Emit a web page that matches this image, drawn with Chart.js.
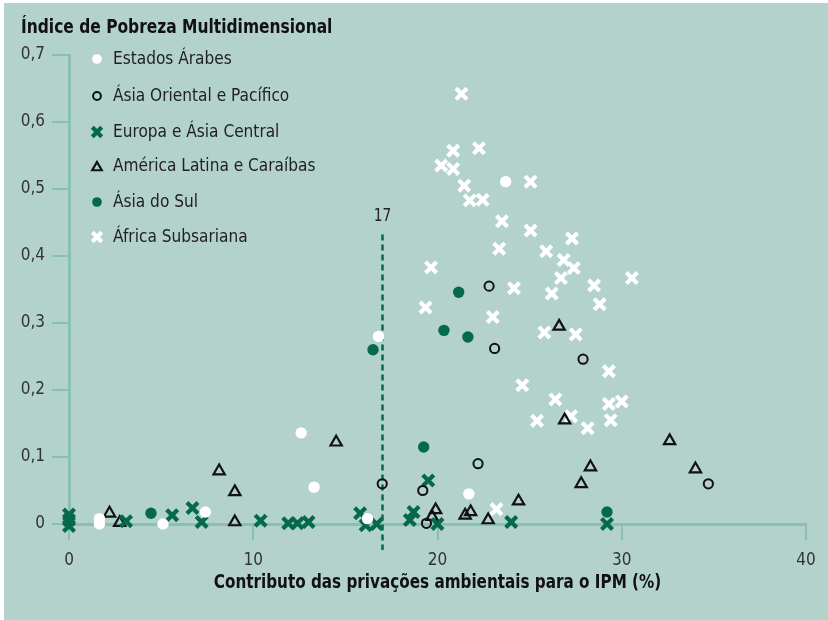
<!DOCTYPE html>
<html><head><meta charset="utf-8">
<script src="https://cdn.jsdelivr.net/npm/chart.js@4/dist/chart.umd.min.js"></script>
<style>html,body{margin:0;padding:0;background:#fff}#wrap{width:828px;height:620px;position:relative}</style>
</head><body><div id="wrap"><canvas id="c" width="828" height="620"></canvas></div>
<script>
// ---------- DATA ----------
const categories = ['Estados Árabes','Ásia Oriental e Pacífico','Europa e Ásia Central','América Latina e Caraíbas','Ásia do Sul','África Subsariana'];
const estadosArabes = [[1.65,0.008],[1.65,0.0],[5.1,0.0],[7.4,0.018],[12.6,0.136],[13.3,0.055],[16.2,0.008],[16.8,0.28],[21.7,0.045],[23.7,0.511]];
const asiaOriental = [[17.0,0.06],[19.2,0.05],[19.4,0.001],[22.2,0.09],[22.8,0.355],[23.1,0.262],[27.9,0.246],[34.7,0.06]];
const europaAsiaCentral = [[0,0.014],[0,0.006],[0,-0.003],[3.1,0.004],[5.6,0.013],[6.7,0.024],[7.2,0.003],[10.4,0.005],[11.9,0.001],[12.4,0.001],[13.0,0.003],[15.8,0.016],[16.1,-0.002],[16.7,0.0],[18.5,0.006],[18.7,0.018],[19.5,0.065],[20.0,0.0],[24.0,0.003],[29.2,0.0]];
const americaLatina = [[2.2,0.016],[2.75,0.002],[8.15,0.079],[9.0,0.048],[9.0,0.003],[14.5,0.122],[19.7,0.011],[19.9,0.021],[21.5,0.013],[21.8,0.018],[22.75,0.006],[24.4,0.034],[26.6,0.295],[26.9,0.155],[27.8,0.06],[28.3,0.085],[32.6,0.124],[34.0,0.082]];
const asiaSul = [[4.45,0.016],[16.5,0.26],[19.25,0.115],[20.35,0.289],[21.15,0.346],[21.65,0.279],[29.2,0.018]];
const africaSubsariana = [[21.3,0.642],[20.85,0.557],[22.25,0.561],[20.2,0.535],[20.85,0.530],[21.45,0.505],[21.75,0.483],[22.45,0.484],[25.05,0.511],[23.5,0.452],[25.05,0.438],[27.3,0.426],[23.35,0.411],[25.9,0.407],[26.85,0.394],[27.4,0.382],[26.7,0.367],[30.55,0.367],[28.5,0.356],[24.15,0.352],[26.2,0.344],[28.8,0.328],[23.0,0.309],[25.8,0.286],[27.5,0.283],[29.3,0.228],[24.6,0.207],[26.4,0.186],[29.3,0.179],[30.0,0.183],[27.25,0.161],[25.4,0.154],[29.4,0.155],[28.15,0.143],[19.65,0.383],[19.35,0.323],[23.2,0.022]];
const xTickValues = [0,10,20,30,40];
const xTickLabels = ['0','10','20','30','40'];
const yTickValues = [0,0.1,0.2,0.3,0.4,0.5,0.6,0.7];
const yTickLabels = ['0','0,1','0,2','0,3','0,4','0,5','0,6','0,7'];
const thresholdX = 17;
const thresholdLabel = '17';
const thresholdTopY = 0.432;
const chartTitle = 'Índice de Pobreza Multidimensional';
const xAxisTitle = 'Contributo das privações ambientais para o IPM (%)';

// ---------- STYLE ----------
const BG = '#b3d2cb';
const AXIS = '#8bbfae';
const GREEN = '#05694b';
const FONT = '"Liberation Sans Narrow","Arial Narrow","DejaVu Sans Condensed",sans-serif';
const seriesData = [estadosArabes, asiaOriental, europaAsiaCentral, americaLatina, asiaSul, africaSubsariana];
const styles = [
  {pointStyle:'circle', r:5.7, bg:'#ffffff', bc:'#ffffff', bw:0},
  {pointStyle:'circle', r:4.6, bg:'rgba(0,0,0,0)', bc:'#111', bw:2},
  {pointStyle:'crossRot', r:7.8, bg:GREEN, bc:GREEN, bw:4.2},
  {pointStyle:'triangle', r:6.5, bg:'rgba(0,0,0,0)', bc:'#111', bw:2.2},
  {pointStyle:'circle', r:5.7, bg:GREEN, bc:GREEN, bw:0},
  {pointStyle:'crossRot', r:7.8, bg:'#ffffff', bc:'#ffffff', bw:4.2}
];

const datasets = categories.map((name,i)=>({
  label:name,
  data: seriesData[i].map(p=>({x:p[0], y:p[1]})),
  pointStyle: styles[i].pointStyle,
  pointRadius: styles[i].r,
  pointBackgroundColor: styles[i].bg,
  pointBorderColor: styles[i].bc,
  pointBorderWidth: styles[i].bw,
  showLine:false,
  clip:false
}));

function scaledText(ctx, text, x, y, sx){
  ctx.save();
  ctx.translate(x, y);
  ctx.scale(sx, 1);
  ctx.fillText(text, 0, 0);
  ctx.restore();
}

const decorPlugin = {
  id:'decor',
  beforeDraw(chart){
    const ctx = chart.ctx;
    ctx.save();
    ctx.fillStyle = '#ffffff';
    ctx.fillRect(0,0,chart.width,chart.height);
    ctx.fillStyle = BG;
    ctx.fillRect(4,3,chart.width-4,chart.height-3);
    ctx.restore();
  },
  beforeDatasetsDraw(chart){
    const ctx = chart.ctx, xs = chart.scales.x, ys = chart.scales.y;
    const px = Math.round(xs.getPixelForValue(thresholdX)) + 0.5;
    const top = ys.getPixelForValue(thresholdTopY);
    ctx.save();
    ctx.strokeStyle = GREEN;
    ctx.lineWidth = 2.5;
    ctx.setLineDash([6,4]);
    ctx.beginPath();
    ctx.moveTo(px, top);
    ctx.lineTo(px, chart.chartArea.bottom + 26);
    ctx.stroke();
    ctx.setLineDash([]);
    ctx.fillStyle = '#222';
    ctx.font = '17px ' + FONT;
    ctx.textAlign = 'center';
    ctx.textBaseline = 'middle';
    scaledText(ctx, thresholdLabel, px, top - 18, 0.9);
    ctx.restore();
  },
  afterDraw(chart){
    const ctx = chart.ctx, H = Chart.helpers;
    ctx.save();
    // title
    ctx.fillStyle = '#111';
    ctx.font = 'bold 19px ' + FONT;
    ctx.textAlign = 'left';
    ctx.textBaseline = 'middle';
    scaledText(ctx, chartTitle, 21, 28, 0.905);
    // x axis title
    ctx.textAlign = 'center';
    scaledText(ctx, xAxisTitle, (chart.chartArea.left+chart.chartArea.right)/2, 583, 0.89);
    // legend
    const rows = [59,96,132,166,202,237];
    ctx.font = '18px ' + FONT;
    categories.forEach((name,i)=>{
      const s = styles[i];
      ctx.fillStyle = s.bg; ctx.strokeStyle = s.bc; ctx.lineWidth = s.bw;
      const y = rows[i];
      H.drawPoint(ctx, {pointStyle:s.pointStyle, radius:s.r*0.85, borderWidth:s.bw*0.9, rotation:0}, 97, y + (s.pointStyle==='triangle'?1.5:0));
      ctx.fillStyle = '#222';
      ctx.textAlign = 'left';
      scaledText(ctx, name, 113, y, 0.95);
    });
    ctx.restore();
  }
};

new Chart(document.getElementById('c'), {
  type:'scatter',
  data:{datasets},
  options:{
    responsive:false,
    animation:false,
    devicePixelRatio:1,
    layout:{padding:{top:55,right:22,left:0,bottom:0}},
    plugins:{legend:{display:false}, tooltip:{enabled:false}, title:{display:false}},
    scales:{
      x:{
        type:'linear', min:0, max:40,
        afterBuildTicks(s){ s.ticks = xTickValues.map(v=>({value:v})); },
        afterFit(s){ s.height = 96; },
        ticks:{ callback:(v)=>xTickLabels[xTickValues.indexOf(v)], color:'#333', font:{family:FONT, size:17}, padding:10, maxRotation:0 },
        grid:{ drawOnChartArea:false, drawTicks:true, tickLength:16, color:AXIS, lineWidth:2, tickColor:AXIS, tickWidth:2 },
        border:{ display:true, color:AXIS, width:3 }
      },
      y:{
        type:'linear', min:0, max:0.7,
        afterBuildTicks(s){ s.ticks = yTickValues.map(v=>({value:v})); },
        afterFit(s){ s.width = 69; },
        ticks:{ callback:(v)=>yTickLabels[yTickValues.findIndex(t=>Math.abs(t-v)<1e-9)], color:'#333', font:{family:FONT, size:17}, padding:7 },
        grid:{ drawOnChartArea:false, drawTicks:true, tickLength:17, color:AXIS, lineWidth:2, tickColor:AXIS, tickWidth:2 },
        border:{ display:true, color:AXIS, width:3 }
      }
    }
  },
  plugins:[decorPlugin]
});
</script>
</body></html>
